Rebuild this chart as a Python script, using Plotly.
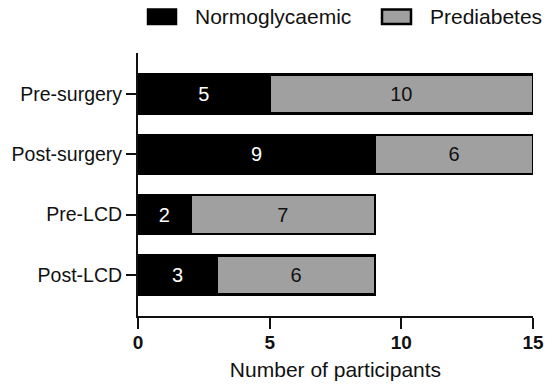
import plotly.graph_objects as go

categories = ["Pre-surgery", "Post-surgery", "Pre-LCD", "Post-LCD"]
normoglycaemic = [5, 9, 2, 3]
prediabetes = [10, 6, 7, 6]
x_ticks = [0, 5, 10, 15]
series_names = ["Normoglycaemic", "Prediabetes"]
series_colors = ["#000000", "#a0a0a0"]
text_colors = ["#ffffff", "#111111"]

FONT = "Liberation Sans, Arial, sans-serif"

# figure geometry (the page adds an 8px body margin)
W, H = 536, 373
ML, MR, MT, MB = 130, 11, 45, 65
PW, PH = W - ML - MR, H - MT - MB

def px(xp):
    return (xp - ML) / PW

def py(yp):
    return (H - MB - yp) / PH

fig = go.Figure()
for name, vals, col, tcol in zip(series_names, [normoglycaemic, prediabetes], series_colors, text_colors):
    fig.add_trace(go.Bar(
        y=categories, x=vals, orientation="h", name=name,
        marker=dict(color=col, line=dict(color="#000000", width=2.5)),
        text=vals, textposition="inside", insidetextanchor="middle",
        textangle=0, constraintext="none",
        textfont=dict(color=tcol, size=20, family=FONT),
        width=0.645, showlegend=False,
    ))

# custom legend (wide rectangular swatches like the reference)
legend_items = [(140, 168, 185), (374, 403, 420)]  # swatch x0, x1, text x (figure px)
for (x0, x1, tx), name, col in zip(legend_items, series_names, series_colors):
    fig.add_shape(type="rect", xref="paper", yref="paper",
                  x0=px(x0), x1=px(x1), y0=py(16), y1=py(1.5),
                  fillcolor=col, line=dict(color="#000000", width=2.5))
    fig.add_annotation(xref="paper", yref="paper", x=px(tx), y=py(9),
                       text=name, showarrow=False, xanchor="left", yanchor="middle",
                       font=dict(size=21, family=FONT, color="#111111"))

fig.update_layout(
    barmode="stack",
    width=W, height=H,
    margin=dict(l=ML, r=MR, t=MT, b=MB, autoexpand=False),
    plot_bgcolor="white", paper_bgcolor="white",
    font=dict(family=FONT, color="#111111", size=19),
    showlegend=False,
    xaxis=dict(range=[0, 15], tickvals=x_ticks, ticks="outside", ticklen=11, tickwidth=2,
               tickcolor="#111111", showline=True, linecolor="#111111", linewidth=2,
               showgrid=False, zeroline=False, ticklabelstandoff=-3,
               tickfont=dict(size=19, family=FONT, weight="bold"),
               title=dict(text="Number of participants", font=dict(size=21, family=FONT), standoff=13)),
    yaxis=dict(categoryorder="array", categoryarray=categories[::-1],
               range=[-0.68, 3.68], ticks="outside", ticklen=10, tickwidth=2,
               tickcolor="#111111", showline=True, linecolor="#111111", linewidth=2,
               showgrid=False, zeroline=False,
               tickfont=dict(size=19.5, family=FONT)),
)

fig.write_html("out.html")
